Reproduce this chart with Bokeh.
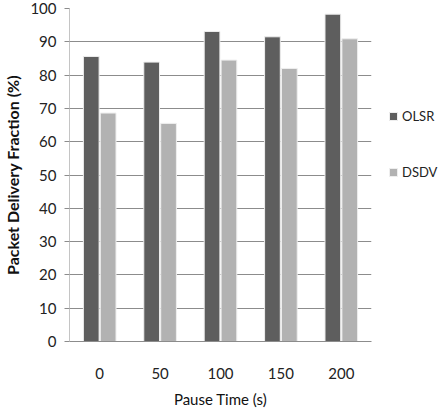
from bokeh.plotting import figure
from bokeh.models import Range1d, FactorRange, Legend, LegendItem, SingleIntervalTicker, ColumnDataSource
from bokeh.transform import dodge
from bokeh.embed import file_html
from bokeh.resources import INLINE

categories = ["0", "50", "100", "150", "200"]
olsr = [85.6, 83.9, 93.1, 91.5, 98.3]
dsdv = [68.6, 65.5, 84.5, 82.0, 90.9]
series_names = ["OLSR", "DSDV"]
colors = ["#5e5e5e", "#b2b2b2"]

source = ColumnDataSource(dict(cat=categories, olsr=olsr, dsdv=dsdv))

FONT = "Lato"

p = figure(frame_width=302, frame_height=333, output_backend="svg", toolbar_location=None,
           x_range=FactorRange(factors=categories, range_padding=0),
           y_range=Range1d(0, 100),
           min_border_left=66, min_border_right=62, min_border_top=8, min_border_bottom=60)

r1 = p.vbar(x=dodge("cat", -0.14, range=p.x_range), top="olsr", width=0.26, source=source,
            fill_color=colors[0], line_color="#eeeeee", line_width=1)
r2 = p.vbar(x=dodge("cat", 0.14, range=p.x_range), top="dsdv", width=0.26, source=source,
            fill_color=colors[1], line_color="#eeeeee", line_width=1)

p.outline_line_color = None
p.background_fill_color = "white"
p.border_fill_color = "white"

p.xgrid.grid_line_color = None
p.ygrid.grid_line_color = "#8c8c8c"
p.ygrid.grid_line_width = 1
p.yaxis.ticker = SingleIntervalTicker(interval=10)

p.yaxis.axis_line_color = "#c4c4c4"
p.yaxis.major_tick_line_color = "#8c8c8c"
p.yaxis.major_tick_out = 5
p.yaxis.major_tick_in = 0
p.yaxis.minor_tick_line_color = None
p.yaxis.major_label_standoff = 8
p.yaxis.major_label_text_font = FONT
p.yaxis.major_label_text_font_size = "15px"
p.yaxis.major_label_text_color = "#222222"
p.yaxis.axis_label = "Packet Delivery Fraction (%)"
p.yaxis.axis_label_text_font = FONT
p.yaxis.axis_label_text_font_style = "bold"
p.yaxis.axis_label_text_font_size = "16px"
p.yaxis.axis_label_text_color = "#111111"
p.yaxis.axis_label_standoff = 5

p.xaxis.axis_line_color = "#8c8c8c"
p.xaxis.major_tick_line_color = None
p.xaxis.minor_tick_line_color = None
p.xaxis.major_label_standoff = 20
p.xaxis.major_label_text_font = FONT
p.xaxis.major_label_text_font_size = "15px"
p.xaxis.major_label_text_color = "#222222"
p.xaxis.axis_label = "Pause Time (s)"
p.xaxis.axis_label_text_font = FONT
p.xaxis.axis_label_text_font_style = "normal"
p.xaxis.axis_label_text_font_size = "15px"
p.xaxis.axis_label_text_color = "#111111"
p.xaxis.axis_label_standoff = 8

legend = Legend(items=[LegendItem(label=series_names[0], renderers=[r1]),
                       LegendItem(label=series_names[1], renderers=[r2])],
                location=(17, 159), orientation="vertical",
                glyph_width=10, glyph_height=10, label_standoff=4, spacing=36,
                padding=0, margin=0, border_line_alpha=0, background_fill_alpha=0,
                label_text_font=FONT, label_text_font_size="13px", label_text_color="#222222",
                label_height=20)
p.add_layout(legend, "right")

open("out.html", "w").write(file_html(p, INLINE))
